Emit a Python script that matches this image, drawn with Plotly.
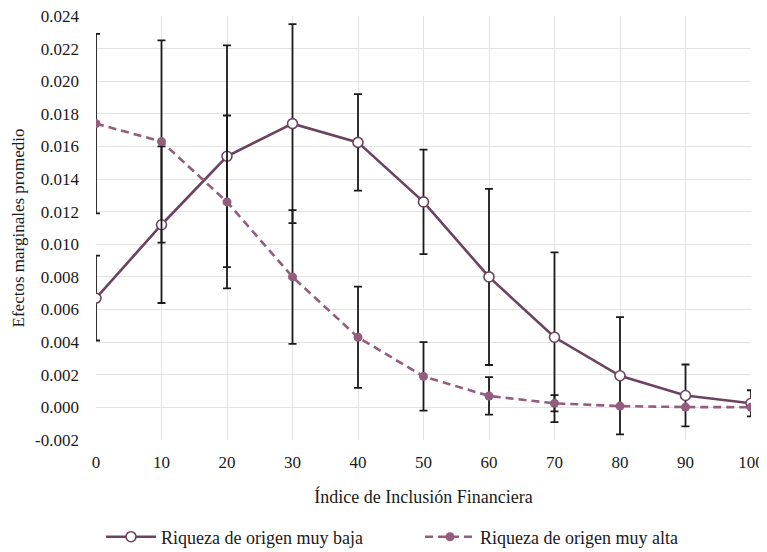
import plotly.graph_objects as go

x_vals = [0, 10, 20, 30, 40, 50, 60, 70, 80, 90, 100]

baja_vals = [0.0067, 0.0112, 0.0154, 0.0174, 0.01625, 0.0126, 0.0080, 0.0043, 0.00194, 0.00073, 0.00025]
baja_err = [0.0026, 0.0048, 0.0068, 0.0061, 0.00296, 0.0032, 0.0054, 0.0052, 0.0036, 0.0019, 0.0008]

alta_vals = [0.0174, 0.0163, 0.0126, 0.0080, 0.0043, 0.0019, 0.0007, 0.00025, 0.00008, 0.00002, 0.00001]
alta_err = [0.0055, 0.0062, 0.0053, 0.0041, 0.0031, 0.0021, 0.00115, 0.0005, 0.00005, 0.00002, 0.00001]

y_ticks = [-0.002, 0.000, 0.002, 0.004, 0.006, 0.008, 0.010, 0.012, 0.014, 0.016, 0.018, 0.020, 0.022, 0.024]
x_ticks = [0, 10, 20, 30, 40, 50, 60, 70, 80, 90, 100]

c_baja = "#6B4360"
c_alta = "#935D7E"
serif = "Liberation Serif"

W, H = 759, 544  # page body has an 8px margin

fig = go.Figure()
fig.add_trace(go.Scatter(
    x=x_vals, y=baja_vals, name="Riqueza de origen muy baja", mode="lines+markers",
    line=dict(color=c_baja, width=2.6),
    marker=dict(symbol="circle", size=10, color="white", line=dict(color=c_baja, width=1.6)),
    error_y=dict(type="data", array=baja_err, visible=True, color="#1a1a1a", thickness=1.8, width=4),
    legend="legend",
))
fig.add_trace(go.Scatter(
    x=x_vals, y=alta_vals, name="Riqueza de origen muy alta", mode="lines+markers",
    line=dict(color=c_alta, width=2.6, dash="8px,5px"),
    marker=dict(symbol="circle", size=9, color=c_alta),
    error_y=dict(type="data", array=alta_err, visible=True, color="#1a1a1a", thickness=1.8, width=4),
    legend="legend2",
))

leg_common = dict(orientation="h", xref="container", yref="container",
                  xanchor="left", y=1 - 529 / H, yanchor="middle",
                  font=dict(family=serif, size=18, color="#1a1a1a"),
                  itemwidth=50, bgcolor="rgba(0,0,0,0)")

fig.update_layout(
    width=W, height=H,
    margin=dict(l=88, r=16, t=8, b=112),
    paper_bgcolor="white", plot_bgcolor="white",
    font=dict(family=serif, size=17, color="#1a1a1a"),
    showlegend=True,
    legend=dict(x=93 / W, **leg_common),
    legend2=dict(x=412 / W, **leg_common),
    xaxis=dict(range=[0, 100], tickvals=x_ticks, ticktext=[str(v) for v in x_ticks],
               showgrid=True, gridcolor="#e3e3e3", gridwidth=1.3, zeroline=False,
               showline=False, ticks="", ticklabelstandoff=10, automargin=False,
               ticklabeloverflow="allow",
               title=dict(text="Índice de Inclusión Financiera", standoff=19,
                          font=dict(family=serif, size=18))),
    yaxis=dict(range=[-0.002, 0.024], tickvals=y_ticks, ticktext=[f"{v:.3f}" for v in y_ticks],
               showgrid=True, gridcolor="#e3e3e3", gridwidth=1.3, zeroline=False,
               showline=False, ticks="", ticklabelstandoff=16, automargin=False,
               ticklabeloverflow="allow",
               title=dict(text="Efectos marginales promedio", standoff=6,
                          font=dict(family=serif, size=17))),
)

fig.write_html("out.html")
